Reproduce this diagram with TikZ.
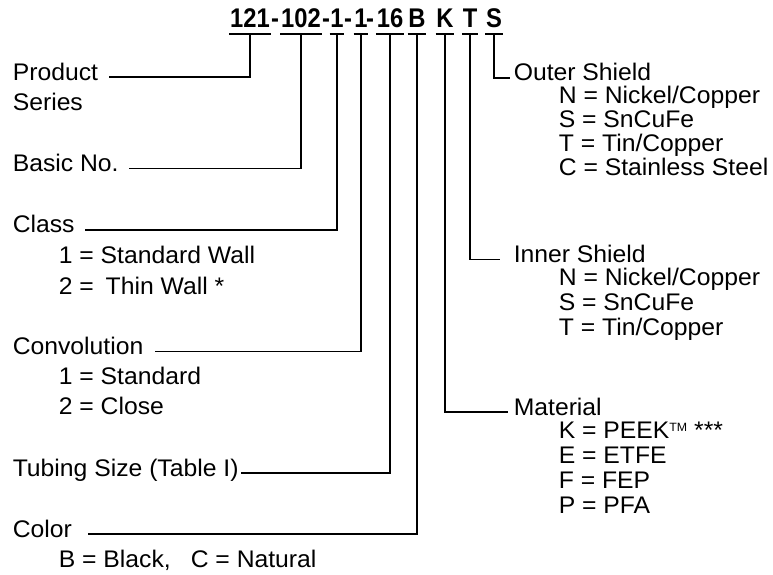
\documentclass[tikz,border=0pt]{standalone}
\usepackage{fontspec}
\setmainfont[FakeStretch=1.03]{Liberation Sans}
\newfontfamily\codefont[FakeStretch=0.88]{Liberation Sans}
\usetikzlibrary{positioning}

\begin{document}
\begin{tikzpicture}[
  x=1pt, y=-1pt,
  code/.style={font=\fontsize{27}{27}\selectfont\codefont\bfseries, anchor=base, inner xsep=0pt, inner ysep=0pt, text depth=6pt},
  lbl/.style={font=\fontsize{24}{24}\selectfont, anchor=base west, inner sep=0pt, text height=0.6em, text depth=0pt},
  every path/.style={line width=1.6pt},
]
\useasboundingbox (0,0) rectangle (773,574);
% part number, one node per field
\node[code] (p121) at (250,27) {121};
\node[code] (d1) at (275,27) {-};
\node[code] (p102) at (301,27) {102};
\node[code] (d2) at (326,27) {-};
\node[code] (pcl) at (337,27) {1};
\node[code] (d3) at (348,27) {-};
\node[code] (pcv) at (361,27) {1};
\node[code] (d4) at (370,27) {-};
\node[code] (psz) at (390,27) {16};
\node[code] (pB) at (417,27) {B};
\node[code] (pK) at (445,27) {K};
\node[code] (pT) at (470,27) {T};
\node[code] (pS) at (494,27) {S};
% left column
\node[lbl] (product) at (12,80) {Product};
\node[lbl] (series) at (12,110.7) {Series};
\node[lbl] (basic) at (12,171.5) {Basic No.};
\node[lbl] (class) at (12,232.7) {Class};
\node[lbl] (class1) at (58,263) {1 = Standard Wall};
\node[lbl] (class2) at (58,294) {2 =\hspace{5pt} Thin Wall *};
\node[lbl] (conv) at (12,354.3) {Convolution};
\node[lbl] (conv1) at (58,384) {1 = Standard};
\node[lbl] (conv2) at (58,414) {2 = Close};
\node[lbl] (size) at (12,476) {Tubing Size (Table I)};
\node[lbl] (color) at (12,537) {Color};
\node[lbl] (color1) at (58,567) {B = Black,\hspace{20pt}C = Natural};
% right column
\node[lbl] (outer) at (513,80.7) {Outer Shield};
\node[lbl] (outer1) at (558,103.3) {N = Nickel/Copper};
\node[lbl] (outer2) at (558,127.3) {S = SnCuFe};
\node[lbl] (outer3) at (558,151) {T = Tin/Copper};
\node[lbl] (outer4) at (558,175) {C = Stainless Steel};
\node[lbl] (inner) at (513,262.5) {Inner Shield};
\node[lbl] (inner1) at (558,285) {N = Nickel/Copper};
\node[lbl] (inner2) at (558,310) {S = SnCuFe};
\node[lbl] (inner3) at (558,335) {T = Tin/Copper};
\node[lbl] (mat) at (513,415) {Material};
\node[lbl] (mat1) at (558,438) {K = PEEK\raisebox{7pt}{\fontsize{12}{12}\selectfont TM} ***};
\node[lbl] (mat2) at (558,463) {E = ETFE};
\node[lbl] (mat3) at (558,488) {F = FEP};
\node[lbl] (mat4) at (558,513) {P = PFA};
% underlines
\draw (p121.south west) -- (p121.south east)
      (p102.south west) -- (p102.south east)
      (pcl.south west) -- (pcl.south east)
      (pcv.south west) -- (pcv.south east)
      (psz.south west) -- (psz.south east)
      (pB.south west) -- (pB.south east)
      (pK.south west) -- (pK.south east)
      (pT.south west) -- (pT.south east)
      (pS.south west) -- (pS.south east);
% leaders
\draw (p121.south) |- ([xshift=10pt]product.east);
\draw (p102.south) |- ([xshift=10pt]basic.east);
\draw (pcl.south) |- ([xshift=10pt]class.east);
\draw (pcv.south) |- ([xshift=11pt]conv.east);
\draw (psz.south) |- ([xshift=2pt]size.east);
\draw (pB.south) |- ([xshift=15pt]color.east);
\draw (pK.south) |- ([xshift=-5pt]mat.west);
\draw (pT.south) |- ([xshift=-13pt]inner.west);
\draw (pS.south) |- ([xshift=-3pt]outer.west);
\end{tikzpicture}
\end{document}
